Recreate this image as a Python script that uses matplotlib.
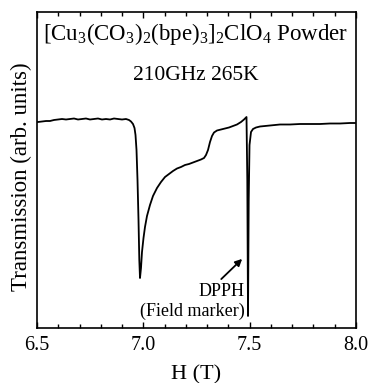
import matplotlib
matplotlib.use("Agg")
import matplotlib.pyplot as plt
from matplotlib.ticker import MultipleLocator

plt.rcParams['font.family'] = ['Liberation Serif', 'DejaVu Serif']
plt.rcParams['mathtext.fontset'] = 'custom'
plt.rcParams['mathtext.rm'] = 'Liberation Serif'
plt.rcParams['mathtext.it'] = 'Liberation Serif:italic'

field_T = [6.5047, 6.5235, 6.5423, 6.5611, 6.5799, 6.5987, 6.6176, 6.6364, 6.6552, 6.6740,
           6.6928, 6.7116, 6.7304, 6.7492, 6.7680, 6.7868, 6.8056, 6.8244, 6.8433, 6.8621,
           6.8809, 6.8997, 6.9185, 6.9326, 6.9420, 6.9514, 6.9585, 6.9632, 6.9679, 6.9726,
           6.9773, 6.9811, 6.9843, 6.9890, 6.9937, 7.0008, 7.0078, 7.0172, 7.0313, 7.0454,
           7.0643, 7.0831, 7.1019, 7.1207, 7.1395, 7.1583, 7.1771, 7.1959, 7.2147, 7.2335,
           7.2523, 7.2711, 7.2853, 7.2947, 7.3041, 7.3135, 7.3229, 7.3323, 7.3464, 7.3652,
           7.3840, 7.4028, 7.4216, 7.4404, 7.4593, 7.4734, 7.4851, 7.4889, 7.4922, 7.4955,
           7.4993, 7.5063, 7.5157, 7.5298, 7.5486, 7.5721, 7.5956, 7.6191, 7.6426, 7.6896,
           7.7366, 7.7837, 7.8307, 7.8777, 7.9247, 7.9717, 7.9952]
transmission = [206, 206.5, 207, 207, 208, 208.5, 209, 208.5, 209, 209.5,
                208.5, 209, 209.5, 208.5, 209, 209.5, 208.5, 209, 208.5, 209.5,
                209, 208.5, 209, 208, 206.5, 204, 200, 193, 178, 148,
                108, 68, 50, 60, 76, 90, 101, 112, 123, 132,
                140, 146, 151, 154, 157, 159.5, 161, 163, 164, 165.5,
                167, 168.5, 170, 173, 178, 186, 192, 195.5, 197.5, 198.5,
                199.5, 200.5, 202, 203.5, 206, 208.5, 211, 148, 12, 128,
                183, 196, 199, 200.5, 201.5, 202, 202.5, 203, 203.5, 203.5,
                204, 204, 204, 204.5, 204.5, 205, 205]

title_lines = [r"[Cu$_3$(CO$_3$)$_2$(bpe)$_3$]$_2$ClO$_4$ Powder", "210GHz 265K"]
x_ticks = [6.5, 7.0, 7.5, 8.0]
x_tick_labels = ["6.5", "7.0", "7.5", "8.0"]

fig = plt.figure(figsize=(3.69, 3.83), dpi=100)
ax = fig.add_axes([37/369, 1-328/383, (356-37)/369, (328-12)/383])
ax.plot(field_T, transmission, color='black', lw=1.3)
ax.set_xlim(6.5, 8.0)
ax.set_ylim(0, 316)
ax.set_xticks(x_ticks)
ax.set_xticklabels(x_tick_labels)
ax.xaxis.set_minor_locator(MultipleLocator(0.1))
ax.tick_params(axis='x', which='both', direction='in', top=True, labelsize=14.5, pad=6)
ax.tick_params(axis='x', which='major', length=4, width=1)
ax.tick_params(axis='x', which='minor', length=3, width=1)
ax.tick_params(axis='y', left=False, labelleft=False, right=False)
for s in ax.spines.values():
    s.set_linewidth(1.2)
ax.set_xlabel("H (T)", fontsize=16, labelpad=7)
ax.set_ylabel("Transmission (arb. units)", fontsize=16.5)
ax.yaxis.set_label_coords(-0.017, 0.478)

ax.text(0.497, 0.93, title_lines[0], transform=ax.transAxes, ha='center', va='center', fontsize=16.5)
ax.text(0.497, 0.80, title_lines[1], transform=ax.transAxes, ha='center', va='center', fontsize=15.5)

ax.annotate("", xy=(7.474, 328-257), xytext=(7.357, 328-281),
            arrowprops=dict(arrowstyle='-|>', color='black', lw=1.3, mutation_scale=10))
ax.text(7.4773, 328-292, "DPPH", ha='right', va='center', fontsize=13)
ax.text(7.4773, 328-311, "(Field marker)", ha='right', va='center', fontsize=13)

fig.savefig("out.png", dpi=100)
